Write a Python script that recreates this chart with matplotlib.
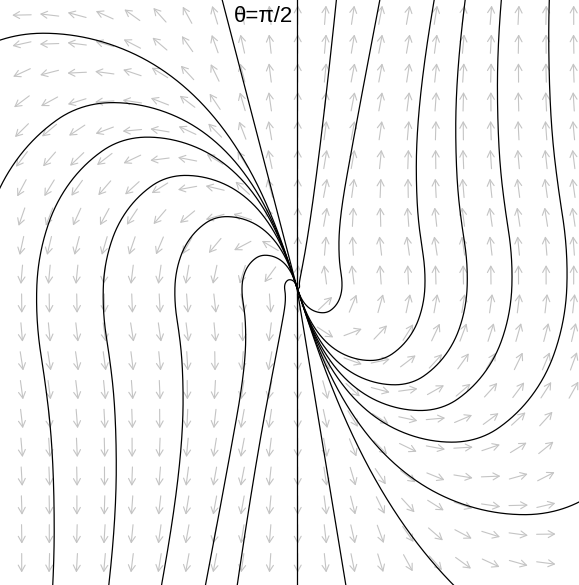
import numpy as np
import matplotlib
matplotlib.use("Agg")
import matplotlib.pyplot as plt

# angle between the field and the radial direction (deg).
# the field only depends on the polar angle and repeats every 180 deg
theta_tab = [90, 108, 115, 125, 135, 145, 155, 165, 180, 195, 205, 215, 225, 235, 245, 255, 262, 270]
delta_tab = [0, 0, 12, 30, 45, 70, 78, 85, 88, 84, 72, 58, 45, 30, 15, 4, 2, 0]

# points that the drawn curves pass through (origin = the node)
left_seeds = [(-2.267, 2.517), (-3.2, -0.033), (-2.6, -0.033), (-1.93, 0.067),
              (-1.217, -0.133), (-0.547, -0.033), (-0.587, -2.933)]
right_seeds = [(0.333, 2.267), (0.45, -0.033), (1.283, 0.067), (1.703, -0.033),
               (2.15, -0.033), (2.7, -0.033), (2.033, -2.263), (0.95, -2.2)]
ray_seeds = [(0.0, 1.0), (0.0, -1.0), (-0.537, 2.067), (0.483, -2.933)]

label = "θ=π/2"


def delta(th):
    t = (np.asarray(th) - 90.0) % 180.0 + 90.0
    return np.interp(t, theta_tab, delta_tab)


# integral of cot(delta) over the curved sector -> log radius along a curve
lo, hi = theta_tab[1], theta_tab[-1]
d = np.logspace(-7, np.log10((hi - lo) / 2.0), 4000)
th_grid = np.unique(np.concatenate([lo + d, hi - d]))
cot = 1.0 / np.tan(np.radians(delta(th_grid)))
G = np.concatenate([[0.0], np.cumsum(0.5 * (cot[1:] + cot[:-1]) * np.diff(np.radians(th_grid)))])


def curve(x0, y0):
    ths = np.degrees(np.arctan2(y0, x0)) % 360.0
    r0 = np.hypot(x0, y0)
    lnr = np.log(r0) + G - np.interp(ths, th_grid, G)
    keep = lnr < np.log(8.0)
    r = np.exp(lnr[keep])
    t = np.radians(th_grid[keep])
    return r * np.cos(t), r * np.sin(t)


fig = plt.figure(figsize=(5.79, 5.85), dpi=100)
ax = fig.add_axes([0, 0, 1, 1])
ax.set_xlim(-2.967, 2.823)
ax.set_ylim(-2.983, 2.867)
ax.axis("off")

# direction arrows
ax_x = np.linspace(-2.75, 2.77, 21)
ax_y = np.linspace(2.717, -2.763, 20)
L = 0.19
for yy in ax_y:
    for xx in ax_x:
        th = np.degrees(np.arctan2(yy, xx))
        psi = np.radians(th + delta(th))
        ux, uy = np.cos(psi) * L / 2, np.sin(psi) * L / 2
        ax.annotate("", xy=(xx + ux, yy + uy), xytext=(xx - ux, yy - uy),
                    arrowprops=dict(arrowstyle="->,head_length=0.45,head_width=0.25",
                                    color="#c4c4c4", lw=0.8, shrinkA=0, shrinkB=0),
                    zorder=1)

# solution curves
for (x0, y0) in left_seeds:
    cx, cy = curve(x0, y0)
    ax.plot(cx, cy, color="black", lw=0.9, zorder=3)
for (x0, y0) in right_seeds:
    cx, cy = curve(-x0, -y0)
    ax.plot(-cx, -cy, color="black", lw=0.9, zorder=3)
for (x0, y0) in ray_seeds:
    s = 8.0 / np.hypot(x0, y0)
    ax.plot([0, x0 * s], [0, y0 * s], color="black", lw=0.9, zorder=3)

ax.text(-0.04, 2.81, label, ha="right", va="top", fontsize=16,
        family=["Liberation Sans", "DejaVu Sans"], zorder=4)

fig.savefig("out.png", dpi=100)
